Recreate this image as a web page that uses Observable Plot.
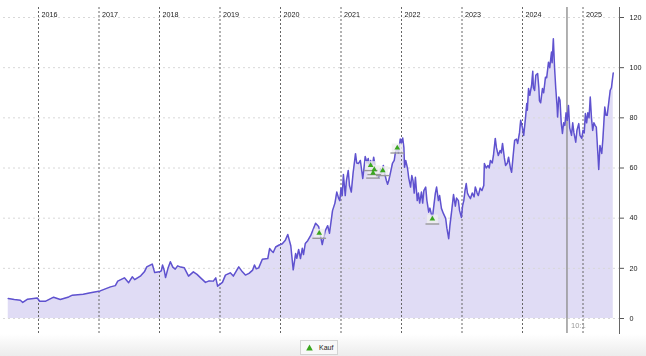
<!DOCTYPE html>
<html><head><meta charset="utf-8">
<script src="https://cdn.jsdelivr.net/npm/d3@7"></script>
<script src="https://cdn.jsdelivr.net/npm/@observablehq/plot@0.6"></script>
<style>
html,body{margin:0;padding:0;background:#fff;width:646px;height:356px;overflow:hidden;font-family:"Liberation Sans",Arial,sans-serif}
#chart svg{display:block;filter:blur(0.35px)}
#legend{height:22px;background:linear-gradient(#ffffff,#ececec);position:relative}
#btn{position:absolute;left:300px;top:6px;width:36px;height:13px;border:1px solid #d4d4d4;background:#f8f8f8;font-size:7px;color:#222;line-height:13px;box-sizing:content-box}
#btn span{position:absolute;left:18px;top:0}
#btn svg{position:absolute;left:5px;top:3px}
</style></head><body>
<div id="chart"></div>
<div id="legend"><div id="btn"><svg width="7" height="7"><path d="M3.5 0.5L6.8 6.5H0.2Z" fill="#3aa61e"/></svg><span>Kauf</span></div></div>
<script>
const years=[2016,2017,2018,2019,2020,2021,2022,2023,2024,2025];
const yTicks=[0,20,40,60,80,100,120];
const h2015=[[2015.50,8.0],[2015.60,7.6],[2015.70,7.3],[2015.74,6.4],[2015.82,7.7],[2015.98,8.2]];
const h2016=[[2016.02,6.9],[2016.12,6.9],[2016.25,8.5],[2016.36,7.6],[2016.50,8.6],[2016.56,9.3],[2016.74,9.7],[2016.86,10.3]];
const h2017=[[2017.02,11],[2017.19,12.6],[2017.27,13.1],[2017.31,14.9],[2017.42,16.2],[2017.49,14.3],[2017.55,16.6],[2017.59,15.5],[2017.69,17],[2017.75,18.6],[2017.79,20.6],[2017.88,21.7],[2017.92,18.3]];
const h2018=[[2018.00,18.6],[2018.03,19],[2018.05,21.3],[2018.08,19],[2018.10,16.3],[2018.14,20],[2018.18,22.6],[2018.22,20.5],[2018.26,19.7],[2018.30,21],[2018.35,20.5],[2018.41,20.2],[2018.48,16.9],[2018.56,18.6],[2018.62,17.6],[2018.68,16.2],[2018.76,14.4],[2018.82,15],[2018.89,14.9],[2018.93,16.2],[2018.96,12.9]];
const h2019=[[2019.04,14.4],[2019.09,17.3],[2019.17,18.2],[2019.22,16.9],[2019.31,20.6],[2019.37,18.6],[2019.42,17.3],[2019.48,18],[2019.54,19.3],[2019.57,21.3],[2019.60,19.8],[2019.64,20.2],[2019.70,23.6],[2019.79,23.9],[2019.82,27.9],[2019.85,27],[2019.88,26.3],[2019.92,28.5],[2019.97,29.2]];
const h2020=[[2020.03,29.8],[2020.08,31.2],[2020.12,33.5],[2020.17,29],[2020.21,19.4],[2020.25,25.9],[2020.27,24],[2020.30,27.5],[2020.33,23.9],[2020.36,28],[2020.38,25.5],[2020.41,29.9],[2020.45,31],[2020.50,33.1],[2020.58,38],[2020.63,36.7],[2020.66,33],[2020.69,29.5],[2020.74,35],[2020.78,37],[2020.81,34],[2020.86,43],[2020.90,46],[2020.93,50.4],[2020.96,48],[2020.98,47]];
const h2021=[[2021.00,52],[2021.02,49],[2021.04,57.4],[2021.07,49],[2021.09,55],[2021.12,59],[2021.14,53],[2021.17,50.4],[2021.20,58],[2021.24,65.7],[2021.26,62],[2021.29,61.8],[2021.32,63],[2021.36,55.8],[2021.38,60],[2021.40,64.6],[2021.43,62],[2021.45,63.8],[2021.47,60],[2021.49,63],[2021.51,59],[2021.54,64.3],[2021.57,60],[2021.59,58],[2021.62,56.3],[2021.65,59.8],[2021.67,58],[2021.70,61],[2021.72,58],[2021.75,55],[2021.77,53.5],[2021.79,55],[2021.85,61.8],[2021.88,63],[2021.90,66.3],[2021.93,68],[2021.95,66],[2021.98,71.6]];
const h2022=[[2022.00,70],[2022.02,72],[2022.04,68],[2022.05,60.3],[2022.07,63],[2022.10,59.8],[2022.12,56],[2022.15,52.4],[2022.17,57],[2022.19,55],[2022.21,50],[2022.23,56.3],[2022.26,47],[2022.28,50],[2022.30,46],[2022.33,50.4],[2022.35,46],[2022.37,51],[2022.40,52.4],[2022.42,47],[2022.45,42.4],[2022.47,44],[2022.51,39.9],[2022.53,44],[2022.56,50],[2022.58,52.4],[2022.61,47],[2022.63,49],[2022.66,43.9],[2022.69,42],[2022.73,39.9],[2022.75,36],[2022.78,31.8],[2022.80,37],[2022.83,43],[2022.86,49.4],[2022.89,44.8],[2022.91,48],[2022.94,47],[2022.96,43],[2022.99,40.3]];
const h2023=[[2023.01,45],[2023.03,47],[2023.05,51],[2023.07,53.8],[2023.09,50],[2023.11,49],[2023.14,47.8],[2023.17,50],[2023.20,48.5],[2023.22,52.4],[2023.25,50],[2023.27,49],[2023.30,52],[2023.33,51],[2023.36,53],[2023.37,61.8],[2023.40,60],[2023.43,61],[2023.45,60],[2023.47,63],[2023.50,62],[2023.52,65],[2023.55,71.8],[2023.57,68],[2023.60,65],[2023.63,67],[2023.65,66],[2023.67,69.8],[2023.70,64],[2023.72,61],[2023.75,62],[2023.77,64.3],[2023.80,60],[2023.82,58.3],[2023.85,66],[2023.87,71],[2023.90,71.5],[2023.92,69.8],[2023.95,74],[2023.97,79]];
const h2024=[[2024.00,76],[2024.02,73],[2024.05,80],[2024.07,85.7],[2024.08,83],[2024.10,91.7],[2024.12,89],[2024.15,92.9],[2024.17,98.6],[2024.18,92],[2024.20,90.9],[2024.22,97],[2024.25,97.7],[2024.27,92],[2024.28,86.9],[2024.30,86],[2024.33,91.7],[2024.35,90],[2024.38,96.2],[2024.40,96],[2024.43,102.2],[2024.45,100],[2024.48,106.2],[2024.49,102],[2024.51,111.5],[2024.53,100],[2024.55,91.7],[2024.57,85],[2024.58,80.3],[2024.60,88.3],[2024.62,87],[2024.64,78],[2024.66,73.8],[2024.68,78],[2024.70,77],[2024.72,82],[2024.74,79],[2024.76,84.9],[2024.78,76],[2024.81,73],[2024.83,78],[2024.85,74],[2024.88,70.3],[2024.90,75],[2024.93,77.7],[2024.95,73],[2024.98,71.8]];
const h2025=[[2025.00,75],[2025.02,74],[2025.04,81.7],[2025.06,78],[2025.08,82],[2025.10,80],[2025.12,88.3],[2025.14,80],[2025.16,75],[2025.18,78],[2025.20,77],[2025.22,76.3],[2025.24,68],[2025.26,59.4],[2025.28,69],[2025.31,65.8],[2025.33,72],[2025.36,84.3],[2025.38,81],[2025.40,81],[2025.43,87],[2025.45,91],[2025.47,92],[2025.50,97.9]];
const buyDates=[2020.64,2021.49,2021.55,2021.53,2021.69,2021.93,2022.51];
const buyPrices=[34,61,59.4,58,59,68,39.7];
const splitDate=[2024.735];
const splitLabel="10:1";
const series=[...h2015,...h2016,...h2017,...h2018,...h2019,...h2020,...h2021,...h2022,...h2023,...h2024,...h2025].map(([d,p])=>({d,p}));
const buys=buyDates.map((d,i)=>({d,p:buyPrices[i]}));
const backing={draw(c,s){const r=Math.sqrt(s);c.rect(-r*1.0,-r*.8,r*2.0,r*1.6);}};
const underline={draw(c,s){const r=Math.sqrt(s);c.rect(-r*1.25,r*.8,r*2.5,r*.25);}};
const plot=Plot.plot({
  width:646,height:334,marginTop:7,marginBottom:1,marginLeft:3,marginRight:27,
  style:{fontFamily:"'Liberation Sans',Arial,sans-serif",fontSize:"7px",background:"#fff",color:"#222"},
  x:{type:"linear",domain:[2016,2025],range:[38,582.5]},
  y:{domain:[0,120],range:[318,17]},
  marks:[
    Plot.areaY(series,{x:"d",y2:"p",y1:0,fill:"#e0dcf5"}),
    Plot.ruleY(yTicks,{stroke:"#d8d8d8",strokeDasharray:"2,3"}),
    Plot.ruleX(years,{stroke:"#666",strokeDasharray:"2,2"}),
    Plot.ruleX(splitDate,{stroke:"#8f8f8f",strokeWidth:1.4}),
    Plot.text(splitDate,{x:d=>d,frameAnchor:"bottom",dy:-6,dx:4,text:()=>splitLabel,textAnchor:"start",fill:"#999",fontSize:7.5}),
    Plot.lineY(series,{x:"d",y:"p",stroke:"#5f52cf",strokeWidth:1.5}),
    Plot.dot(buys,{x:"d",y:"p",symbol:backing,r:3.1,fill:"#efefef",fillOpacity:0.8}),
    Plot.dot(buys,{x:"d",y:"p",symbol:underline,r:3.1,fill:"#999"}),
    Plot.dot(buys,{x:"d",y:"p",symbol:"triangle",r:2.1,fill:"#3aa61e"}),
    Plot.text(years,{x:d=>d,frameAnchor:"top",dy:4,dx:3,text:d=>String(d),textAnchor:"start",fill:"#222",fontSize:7.2}),
    Plot.axisY(yTicks,{anchor:"right",tickSize:4,tickPadding:6,stroke:"#555",label:null,fill:"#222",fontSize:7.2}),
    Plot.frame({anchor:"right",stroke:"#666"}),
    Plot.axisX({ticks:[],label:null})
  ]
});
document.getElementById("chart").append(plot);
</script>
</body></html>
